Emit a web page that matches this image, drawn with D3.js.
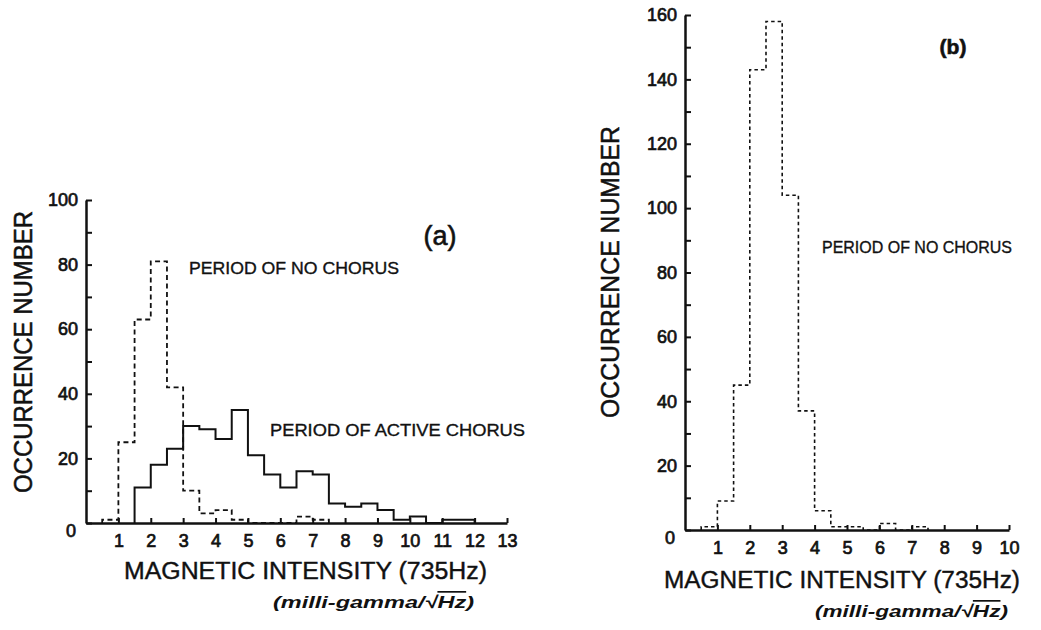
<!DOCTYPE html>
<html>
<head>
<meta charset="utf-8">
<script src="https://cdn.jsdelivr.net/npm/d3@7"></script>
<style>
  html, body { margin: 0; padding: 0; background: #fff; }
  svg { display: block; }
  text { font-family: "Liberation Sans", Arial, Helvetica, sans-serif; fill: #111; }
</style>
</head>
<body>
<script>
// ---------------- DATA ----------------
const binWidth = 0.5;

// Panel (a): bins 0-0.5, 0.5-1.0, ... 12.5-13.0
const noChorusA = [0, 1, 25, 63, 81, 42, 10, 3, 4, 1, 0, 0, 0, 2, 1, 0, 0, 0, 0, 0, 0, 0, 0, 0, 0, 0];
const activeChorusA = [0, 0, 0, 11, 18, 23, 30, 29, 26, 35, 21, 15, 11, 16, 15, 6, 5, 6, 4, 1, 2, 0, 1, 1, 0, 0];
const xTickLabelsA = [1, 2, 3, 4, 5, 6, 7, 8, 9, 10, 11, 12, 13];
const yTicksA = [0, 10, 20, 30, 40, 50, 60, 70, 80, 90, 100];
const yTickLabelsA = [0, 20, 40, 60, 80, 100];

// Panel (b): bins 0-0.5, ... 9.5-10.0
const noChorusB = [0, 1, 9, 45, 143, 158, 104, 37, 6, 1, 1, 0, 2, 0, 1, 0, 0, 0, 0, 0];
const xTickLabelsB = [1, 2, 3, 4, 5, 6, 7, 8, 9, 10];
const yTicksB = [0, 10, 20, 30, 40, 50, 60, 70, 80, 90, 100, 110, 120, 130, 140, 150, 160];
const yTickLabelsB = [0, 20, 40, 60, 80, 100, 120, 140, 160];

const labelNoChorus = "PERIOD OF NO CHORUS";
const labelActive = "PERIOD OF ACTIVE CHORUS";
const yTitle = "OCCURRENCE NUMBER";
const xTitle = "MAGNETIC INTENSITY  (735Hz)";

// ---------------- CHART ----------------
const W = 1041, H = 630;
const svg = d3.select("body").append("svg").attr("width", W).attr("height", H);
svg.append("rect").attr("width", W).attr("height", H).attr("fill", "#fff");

function stepOutline(values) {
  let first = values.findIndex(v => v > 0);
  let last = values.length - 1;
  while (last > 0 && values[last] === 0) last--;
  const pts = [[first * binWidth, 0]];
  for (let i = first; i <= last; i++) pts.push([i * binWidth, values[i]]);
  pts.push([(last + 1) * binWidth, 0]);
  return pts;
}

function heavy(sel, w) {
  return sel.attr("stroke", "#111").attr("stroke-width", w).attr("paint-order", "stroke");
}

function drawPanel(o) {
  const g = svg.append("g");
  const x = o.x, y = o.y;
  // histograms
  o.series.forEach(s => {
    const line = d3.line().x(d => x(d[0])).y(d => y(d[1])).curve(d3.curveStepAfter);
    g.append("path")
      .attr("d", line(stepOutline(s.values)))
      .attr("fill", "none")
      .attr("stroke", "#111")
      .attr("stroke-width", s.width)
      .attr("stroke-dasharray", s.dash || null)
      .attr("stroke-linejoin", "miter");
  });
  // y axis
  const ya = g.append("g")
    .attr("transform", `translate(${x(0)},0)`)
    .call(d3.axisLeft(y).tickValues(o.yTicks).tickSize(-6).tickSizeOuter(0).tickPadding(8)
      .tickFormat(d => o.yLabels.includes(d) ? d : ""));
  // x axis
  const xa = g.append("g")
    .attr("transform", `translate(0,${y(0)})`)
    .call(d3.axisBottom(x).tickValues(o.xTicks).tickSize(-5).tickSizeOuter(0).tickPadding(8)
      .tickFormat(d => d));
  [ya, xa].forEach(a => {
    a.attr("font-family", null).attr("font-size", null);
    a.select(".domain").attr("stroke", "#111").attr("stroke-width", 2.5);
    a.selectAll(".tick line").attr("stroke", "#111").attr("stroke-width", 2);
    heavy(a.selectAll(".tick text").attr("fill", "#111").style("font-size", "18px"), 0.7);
  });
  ya.selectAll(".tick text").filter(d => d === 0).attr("dy", "0.75em").attr("dx", "-2");
  xa.selectAll(".tick text").attr("dy", "0.9em");

  // y title
  heavy(g.append("text")
    .attr("transform", `translate(${o.yTitlePos[0]},${o.yTitlePos[1]}) rotate(-90)`)
    .attr("text-anchor", "middle").attr("dominant-baseline", "central")
    .attr("textLength", o.yTitleLen).attr("lengthAdjust", "spacingAndGlyphs")
    .style("font-size", "25px")
    .text(yTitle), 0.5);
  // x title
  heavy(g.append("text")
    .attr("x", o.xTitlePos[0]).attr("y", o.xTitlePos[1])
    .attr("dominant-baseline", "central")
    .attr("textLength", o.xTitleLen).attr("lengthAdjust", "spacingAndGlyphs")
    .style("font-size", "23px")
    .text(xTitle), 0.4);
  // unit
  const u = g.append("text")
    .attr("x", o.unitPos[0]).attr("y", o.unitPos[1])
    .attr("dominant-baseline", "central")
    .attr("textLength", o.unitLen).attr("lengthAdjust", "spacingAndGlyphs")
    .style("font-size", "17px").style("font-style", "italic").style("font-weight", "bold");
  u.append("tspan").text("(milli-gamma/\u221A");
  u.append("tspan").attr("text-decoration", "overline").text("Hz");
  u.append("tspan").text(")");
  // panel letter
  heavy(g.append("text")
    .attr("x", o.letterPos[0]).attr("y", o.letterPos[1])
    .attr("text-anchor", "middle").attr("dominant-baseline", "central")
    .style("font-size", o.letterSize + "px").style("font-weight", o.letterWeight)
    .text(o.letter), 0.6);
  // annotations
  o.notes.forEach(n => {
    heavy(g.append("text")
      .attr("x", n.x).attr("y", n.y)
      .attr("dominant-baseline", "central")
      .attr("textLength", n.len).attr("lengthAdjust", "spacingAndGlyphs")
      .style("font-size", "17px")
      .text(n.text), 0.35);
  });
}

// Panel (a)
drawPanel({
  x: d3.scaleLinear().domain([0, 13]).range([86, 507]),
  y: d3.scaleLinear().domain([0, 100]).range([523, 200]),
  series: [
    { values: noChorusA, width: 1.8, dash: "5,3.5" },
    { values: activeChorusA, width: 2 }
  ],
  xTicks: xTickLabelsA,
  yTicks: yTicksA,
  yLabels: yTickLabelsA,
  yTitlePos: [23, 352], yTitleLen: 282,
  xTitlePos: [124, 571], xTitleLen: 363,
  unitPos: [273, 602], unitLen: 201,
  letter: "(a)", letterPos: [440, 236], letterSize: 27, letterWeight: "normal",
  notes: [
    { text: labelNoChorus, x: 189, y: 268, len: 210 },
    { text: labelActive, x: 270, y: 430, len: 255 }
  ]
});

// Panel (b)
drawPanel({
  x: d3.scaleLinear().domain([0, 10]).range([685, 1009]),
  y: d3.scaleLinear().domain([0, 160]).range([530, 15]),
  series: [
    { values: noChorusB, width: 1.6, dash: "3.5,3" }
  ],
  xTicks: xTickLabelsB,
  yTicks: yTicksB,
  yLabels: yTickLabelsB,
  yTitlePos: [610, 272], yTitleLen: 292,
  xTitlePos: [664, 580], xTitleLen: 356,
  unitPos: [815, 611], unitLen: 193,
  letter: "(b)", letterPos: [953, 46], letterSize: 21, letterWeight: "bold",
  notes: [
    { text: labelNoChorus, x: 822, y: 247, len: 190 }
  ]
});
</script>
</body>
</html>
